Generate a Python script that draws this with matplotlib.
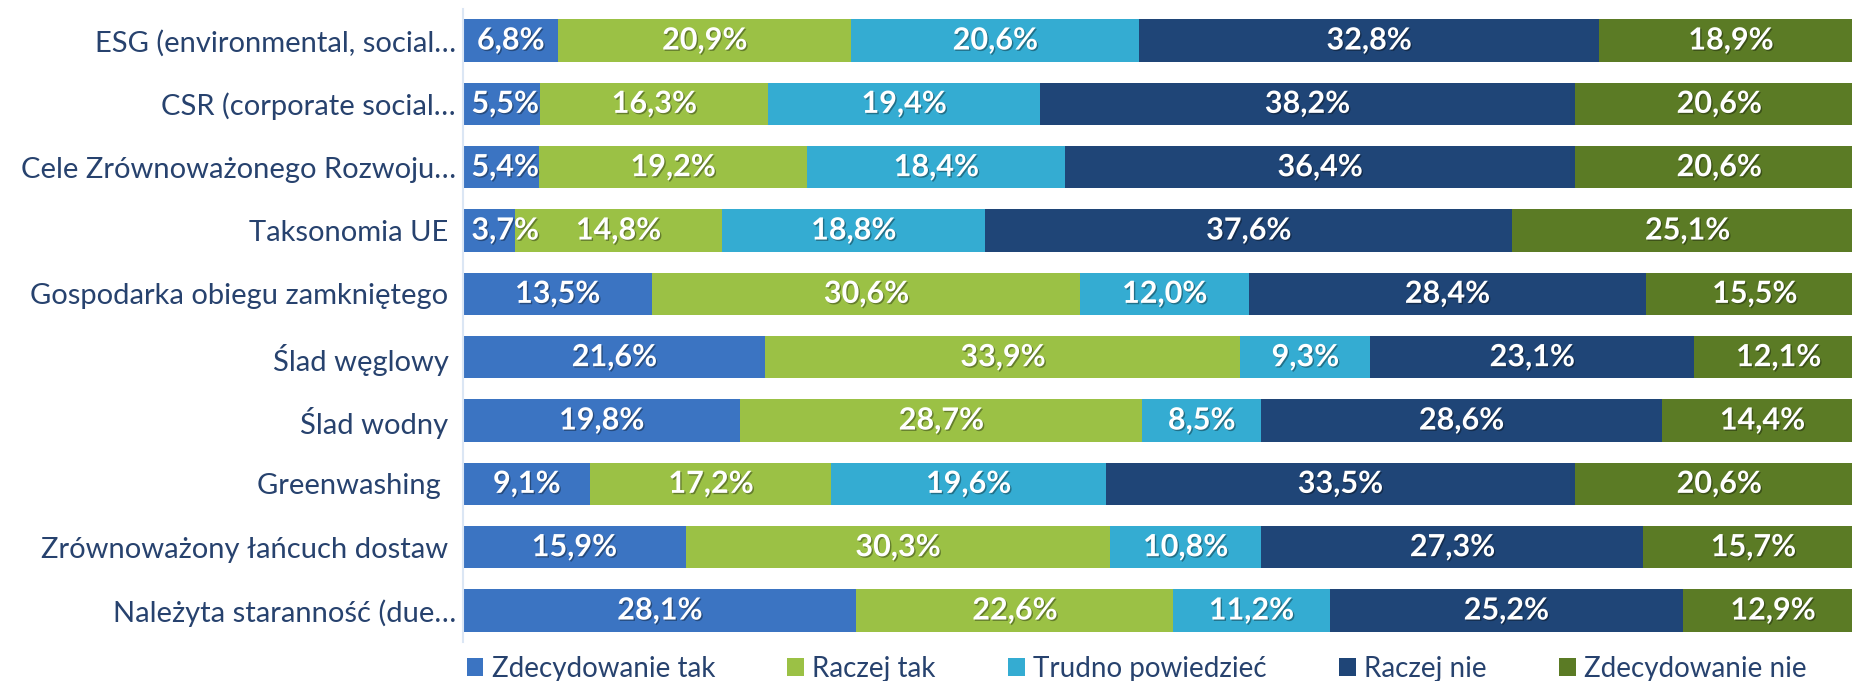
import matplotlib.pyplot as plt
import matplotlib.patheffects as pe
import numpy as np

plt.rcParams['font.family'] = ['Lato', 'DejaVu Sans']

# Data
categories = [
    'ESG (environmental, social…',
    'CSR (corporate social…',
    'Cele Zrównoważonego Rozwoju…',
    'Taksonomia UE ',
    'Gospodarka obiegu zamkniętego ',
    'Ślad węglowy ',
    'Ślad wodny ',
    'Greenwashing  ',
    'Zrównoważony łańcuch dostaw ',
    'Należyta staranność (due…',
]
series_names = ['Zdecydowanie tak', 'Raczej tak', 'Trudno powiedzieć', 'Raczej nie', 'Zdecydowanie nie']
zdecydowanie_tak = [6.8, 5.5, 5.4, 3.7, 13.5, 21.6, 19.8, 9.1, 15.9, 28.1]
raczej_tak = [20.9, 16.3, 19.2, 14.8, 30.6, 33.9, 28.7, 17.2, 30.3, 22.6]
trudno = [20.6, 19.4, 18.4, 18.8, 12.0, 9.3, 8.5, 19.6, 10.8, 11.2]
raczej_nie = [32.8, 38.2, 36.4, 37.6, 28.4, 23.1, 28.6, 33.5, 27.3, 25.2]
zdecydowanie_nie = [18.9, 20.6, 20.6, 25.1, 15.5, 12.1, 14.4, 20.6, 15.7, 12.9]

series = [zdecydowanie_tak, raczej_tak, trudno, raczej_nie, zdecydowanie_nie]
colors = ['#3b74c2', '#9bc145', '#34acd2', '#1f4577', '#5b7b25']
label_color = '#27426e'

fig = plt.figure(figsize=(18.52, 6.81), dpi=100, facecolor='white')
ax = fig.add_axes([0.25, 0.057, 0.75, 0.930])

y = np.arange(len(categories))
left = np.zeros(len(categories))
shadow = [pe.withSimplePatchShadow(offset=(1, -1), shadow_rgbFace='black', alpha=0.35)]

for name, vals, col in zip(series_names, series, colors):
    vals = np.array(vals)
    ax.barh(y, vals, left=left, height=0.67, color=col, label=name)
    for yi, l, v in zip(y, left, vals):
        txt = f'{v:.1f}%'.replace('.', ',')
        if l == 0 and v < 6:
            # too narrow for a centred label: keep it inside the axes like Excel does
            ax.text(l + 0.6, yi, txt, ha='left', va='center', color='white',
                    fontsize=22, fontweight='bold', path_effects=shadow)
        else:
            ax.text(l + v / 2, yi, txt, ha='center', va='center', color='white',
                    fontsize=22, fontweight='bold', path_effects=shadow)
    left += vals

ax.set_xlim(0, 99.2)
ax.set_ylim(len(categories) - 0.5, -0.5)
ax.set_yticks(y)
ax.set_yticklabels(categories, fontsize=21, color=label_color)
ax.tick_params(axis='y', length=0, pad=5)
ax.set_xticks([])
for s in ['top', 'right', 'bottom']:
    ax.spines[s].set_visible(False)
ax.spines['left'].set_color('#dbe6f4')
ax.spines['left'].set_linewidth(1.5)

leg = fig.legend(loc='center left', bbox_to_anchor=(0.252, 0.018), ncol=5, frameon=False,
                 fontsize=20, handlelength=0.6, handleheight=0.6, handletextpad=0.3,
                 columnspacing=2.6, borderaxespad=0, borderpad=0)
for t in leg.get_texts():
    t.set_color(label_color)

fig.savefig('out.png', dpi=100, facecolor='white')
